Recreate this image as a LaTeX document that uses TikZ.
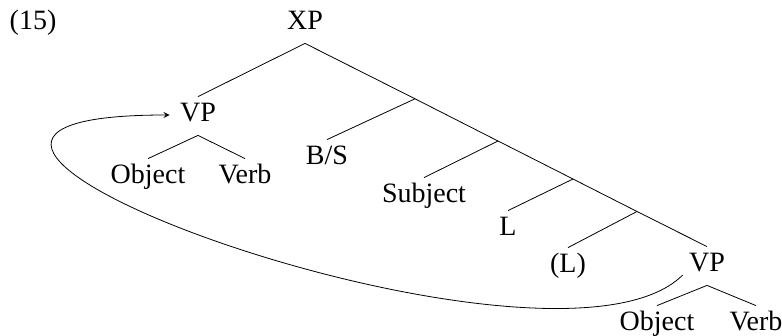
\documentclass[tikz,border=0pt]{standalone}
\usepackage{fontspec}
\setmainfont{Liberation Serif}
\begin{document}
\begin{tikzpicture}[x=0.5pt,y=-0.5pt,>=stealth,
    every node/.style={anchor=base,inner sep=0pt,text height=12.5pt,text depth=6.5pt,
      font=\fontsize{14}{16}\selectfont}]
      \useasboundingbox (0,0) rectangle (782,336);
      \draw
        (33,30) node (ex){(15)}
        (305,30) node (xp){XP}
        (198,122) node (vp1){VP}
        (148,184) node (obj1){Object}
        (245,184) node (verb1){Verb}
        (327,165) node (bs){B/S}
        (424,203) node (subj){Subject}
        (508,236) node (l){L}
        (568,273) node (lopt){(L)}
        (707,272) node (vp2){VP}
        (657,331) node (obj2){Object}
        (756,331) node (verb2){Verb};
      \path
        (415,98.8) coordinate (n1)
        (498,141) coordinate (n2)
        (573,179) coordinate (n3)
        (637,211.5) coordinate (n4);
      \begin{scope}[-]
        \draw (xp.south) to (vp1.north);
        \draw (xp.south) to (n1);
        \draw (n1) to (n2);
        \draw (n2) to (n3);
        \draw (n3) to (n4);
        \draw (n4) to (vp2.north);
        \draw (n1) to (bs.north);
        \draw (n2) to (subj.north);
        \draw (n3) to (l.north);
        \draw (n4) to (lopt.north);
        \draw (vp1.south) to (obj1.north);
        \draw (vp1.south) to (verb1.north);
        \draw (vp2.south) to (obj2.north);
        \draw (vp2.south) to (verb2.north);
      \end{scope}
      \draw[->] ([shift={(-6,3)}]vp2.base west)
        .. controls +(-130,130) and +(-410,0) .. ([shift={(-10,-1)}]vp1.west);
    \end{tikzpicture}
\end{document}
